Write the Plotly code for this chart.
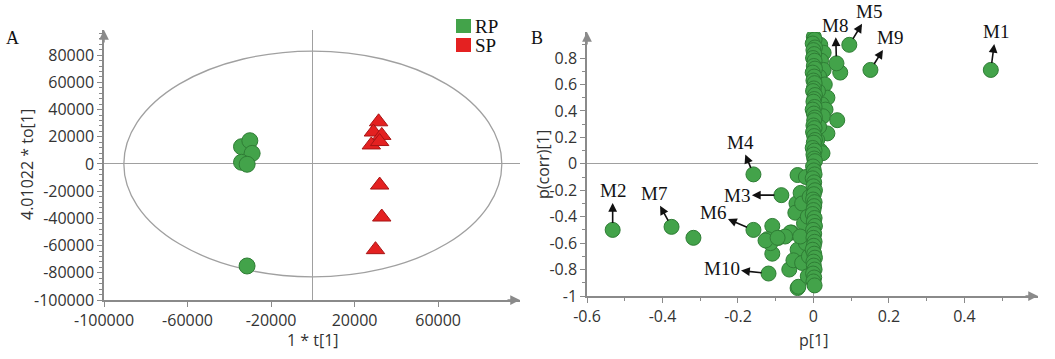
import plotly.graph_objects as go

# ---------------- Panel A data (OPLS-DA scores) ----------------
rp_t = [-34150, -30170, -29070, -34150, -31460, -31500]
rp_to = [12700, 17100, 7800, 1250, -200, -75000]
sp_t = [31500, 29000, 33000, 28000, 32000, 32000, 33000, 30000]
sp_to = [31000, 23500, 21000, 14000, 16500, -15500, -39000, -63000]
ellipse_t = 90500
ellipse_to = 83000
groups = ["RP", "SP"]

a_xticks = [-100000, -60000, -20000, 20000, 60000]
a_xticktext = ["-100000", "-60000", "-20000", "20000", "60000"]
a_yticks = [-100000, -80000, -60000, -40000, -20000, 0, 20000, 40000, 60000, 80000]
a_yticktext = ["-100000", "-80000", "-60000", "-40000", "-20000", "0", "20000", "40000", "60000", "80000"]

# ---------------- Panel B data (S-plot) ----------------
col_p = [0.001, 0.003, -0.002, 0.004, 0.000, 0.002, -0.001, 0.003, 0.001, 0.004, -0.002, 0.002,
         0.000, 0.003, 0.001, -0.001, 0.004, 0.002, 0.000, 0.003, -0.002, 0.001, 0.004, 0.002,
         0.000, 0.003, -0.001, 0.002, 0.004, 0.001, -0.002, 0.003, 0.000, 0.002, 0.004, -0.001,
         0.001, 0.003, -0.002, 0.002, 0.000, 0.004, 0.001, -0.001, 0.003, 0.002, 0.000, -0.002,
         0.003, 0.001, 0.004, -0.001, 0.002, 0.000, 0.003, 0.001, -0.002, 0.002, 0.004, 0.000,
         0.001, 0.003, -0.001, 0.002, 0.000, 0.003]
col_corr = [0.96, 0.94, 0.91, 0.88, 0.86, 0.83, 0.80, 0.78, 0.74, 0.72, 0.69, 0.66,
            0.63, 0.61, 0.57, 0.55, 0.52, 0.49, 0.47, 0.43, 0.41, 0.38, 0.35, 0.33,
            0.29, 0.27, 0.24, 0.21, 0.18, 0.16, 0.12, 0.10, 0.07, 0.04, 0.02, -0.02,
            -0.05, -0.08, -0.11, -0.14, -0.17, -0.20, -0.23, -0.27, -0.29, -0.32, -0.35, -0.38,
            -0.41, -0.44, -0.47, -0.50, -0.53, -0.56, -0.59, -0.62, -0.65, -0.68, -0.71, -0.74,
            -0.77, -0.80, -0.83, -0.86, -0.89, -0.92]
pos_p = [0.018, 0.027, 0.020, 0.027, 0.015, 0.030, 0.037, 0.022, 0.032, 0.025, 0.063, 0.037,
         0.015, 0.018, 0.024, 0.071, 0.012, 0.010]
pos_corr = [0.90, 0.84, 0.78, 0.71, 0.66, 0.60, 0.50, 0.45, 0.41, 0.36, 0.33, 0.23,
            0.28, 0.10, 0.08, 0.69, 0.55, 0.18]
neg_p = [-0.042, -0.109, -0.122, -0.093, -0.109, -0.064, -0.042, -0.058, -0.045, -0.061,
         -0.114, -0.040, -0.048, -0.034, -0.030, -0.042, -0.053, -0.025, -0.020, -0.030,
         -0.015, -0.020, -0.015, -0.075, -0.035, -0.127, -0.318, -0.095, -0.010, -0.012]
neg_corr = [-0.085, -0.47, -0.57, -0.56, -0.68, -0.80, -0.94, -0.52, -0.30, -0.52,
            -0.60, -0.93, -0.37, -0.22, -0.30, -0.65, -0.73, -0.45, -0.60, -0.75,
            -0.85, -0.10, -0.40, -0.55, -0.55, -0.58, -0.56, -0.56, -0.25, -0.70]
m_names = ["M1", "M2", "M3", "M4", "M5", "M6", "M7", "M8", "M9", "M10"]
m_p = [0.470, -0.532, -0.085, -0.159, 0.095, -0.159, -0.376, 0.061, 0.151, -0.119]
m_corr = [0.71, -0.50, -0.237, -0.08, 0.90, -0.50, -0.477, 0.76, 0.71, -0.83]
# label offset (pixels, text centre relative to the point)
m_dx = [5, 0, -44, -13, 20, -40, -18, -1, 20, -47]
m_dy = [-38, -39, 0, -32, -33, -17, -33, -38, -32, -5]

b_xticks = [-0.6, -0.4, -0.2, 0, 0.2, 0.4]
b_xticktext = ["-0.6", "-0.4", "-0.2", "0", "0.2", "0.4"]
b_yticks = [-1, -0.8, -0.6, -0.4, -0.2, 0, 0.2, 0.4, 0.6, 0.8]
b_yticktext = ["-1", "-0.8", "-0.6", "-0.4", "-0.2", "0", "0.2", "0.4", "0.6", "0.8"]

GREEN = "#43a34a"
GREEN_EDGE = "#2f7d35"
RED = "#e42121"
RED_EDGE = "#a81414"
AXIS = "#8a8a8a"
TXT = "#333333"
SANS = "Open Sans, DejaVu Sans, sans-serif"
SERIF = "Liberation Serif, Times New Roman, serif"

W, H = 1055, 359

fig = go.Figure()

# Panel A
fig.add_trace(go.Scatter(x=rp_t, y=rp_to, mode="markers", xaxis="x", yaxis="y", name=groups[0],
                         showlegend=False,
                         marker=dict(symbol="circle", size=16, color=GREEN,
                                     line=dict(color=GREEN_EDGE, width=1))))
fig.add_trace(go.Scatter(x=sp_t, y=sp_to, mode="markers", xaxis="x", yaxis="y", name=groups[1],
                         showlegend=False,
                         marker=dict(symbol="triangle-up", size=16, color=RED,
                                     line=dict(color=RED_EDGE, width=1))))

# Panel B
bmarker = dict(symbol="circle", size=15, color=GREEN, line=dict(color=GREEN_EDGE, width=1))
fig.add_trace(go.Scatter(x=neg_p, y=neg_corr, mode="markers", xaxis="x2", yaxis="y2",
                         showlegend=False, marker=bmarker))
fig.add_trace(go.Scatter(x=pos_p, y=pos_corr, mode="markers", xaxis="x2", yaxis="y2",
                         showlegend=False, marker=bmarker))
fig.add_trace(go.Scatter(x=col_p, y=col_corr, mode="markers", xaxis="x2", yaxis="y2",
                         showlegend=False, marker=bmarker))
fig.add_trace(go.Scatter(x=m_p, y=m_corr, mode="markers", xaxis="x2", yaxis="y2",
                         showlegend=False, marker=bmarker, text=m_names))

shapes = [dict(type="circle", xref="x", yref="y", x0=-ellipse_t, x1=ellipse_t,
               y0=-ellipse_to, y1=ellipse_to, line=dict(color="#a0a0a0", width=1.3), layer="below")]

annotations = []
# metabolite labels with arrows
for name, px, py, dx, dy in zip(m_names, m_p, m_corr, m_dx, m_dy):
    annotations.append(dict(x=px, y=py, xref="x2", yref="y2", text=name, showarrow=True,
                            ax=dx, ay=dy, arrowside="start", arrowhead=2, startarrowhead=2,
                            arrowsize=1, startarrowsize=1.1, arrowwidth=1.6, arrowcolor="#111",
                            standoff=7, startstandoff=0,
                            font=dict(family=SERIF, size=19, color="#111")))

# axis arrows
def arrow(xref, yref, x, y, ax, ay):
    annotations.append(dict(x=x, y=y, xref=xref, yref=yref, text="", showarrow=True,
                            axref="pixel", ax=ax, ay=ay, arrowhead=2, arrowsize=1.3,
                            arrowwidth=1.5, arrowcolor=AXIS))

arrow("x", "y", 99200, -100000, -14, 0)
arrow("x", "y", -100000, 98500, 0, 14)
arrow("x2", "y2", 0.595, -1, -14, 0)
arrow("x2", "y2", -0.6, 0.997, 0, 14)

def ptext(x, y, text, size=16, family=SANS, angle=0, color=TXT, xanchor="center"):
    annotations.append(dict(x=x / W, y=1 - y / H, xref="paper", yref="paper", text=text,
                            showarrow=False, textangle=angle, xanchor=xanchor, yanchor="middle",
                            font=dict(family=family, size=size, color=color)))

ptext(12, 38, "A", size=18, family=SERIF, color="#111")
ptext(537, 38, "B", size=18, family=SERIF, color="#111")
ptext(27, 165, "4.01022 * to[1]", size=16, angle=-90)
ptext(313, 340, "1 * t[1]", size=16)
ptext(543, 165, "p(corr)[1]", size=16, angle=-90)
ptext(813, 340, "p[1]", size=16)

# legend (square swatches + labels)
for i, (g, c) in enumerate(zip(groups, [GREEN, RED])):
    y0 = 19 + 19 * i
    shapes.append(dict(type="rect", xref="paper", yref="paper", x0=456 / W, x1=471 / W,
                       y0=1 - (y0 + 14) / H, y1=1 - y0 / H, fillcolor=c, line=dict(width=0)))
    ptext(473, y0 + 7, g, size=19, family=SERIF, color="#111", xanchor="left")

axis_common = dict(showline=True, linecolor=AXIS, linewidth=1.5, ticks="outside", ticklen=5,
                   tickcolor=AXIS, tickwidth=1, showgrid=False, zeroline=True,
                   zerolinecolor="#a0a0a0", zerolinewidth=1.3, tickmode="array",
                   automargin=False,
                   tickfont=dict(family=SANS, size=16, color=TXT))

fig.update_layout(
    width=W, height=H, margin=dict(l=0, r=0, t=0, b=0, autoexpand=False),
    paper_bgcolor="white", plot_bgcolor="white",
    xaxis=dict(domain=[104 / W, 520 / W], range=[-100000, 99200], anchor="y",
               tickvals=a_xticks, ticktext=a_xticktext, **axis_common),
    yaxis=dict(domain=[1 - 300 / H, 1 - 30 / H], range=[-100000, 98500], anchor="x",
               tickvals=a_yticks, ticktext=a_yticktext,
               minor=dict(tickmode="linear", tick0=0, dtick=4000, ticks="outside", ticklen=3,
                          tickcolor=AXIS), **axis_common),
    xaxis2=dict(domain=[587 / W, 1038 / W], range=[-0.6, 0.595], anchor="y2",
                tickvals=b_xticks, ticktext=b_xticktext,
                minor=dict(tickmode="linear", tick0=0, dtick=0.1, ticks="outside", ticklen=3,
                           tickcolor=AXIS), **axis_common),
    yaxis2=dict(domain=[1 - 296 / H, 1 - 32 / H], range=[-1, 0.997], anchor="x2",
                tickvals=b_yticks, ticktext=b_yticktext,
                minor=dict(tickmode="linear", tick0=0, dtick=0.1, ticks="outside", ticklen=3,
                           tickcolor=AXIS), **axis_common),
    showlegend=False,
    shapes=shapes, annotations=annotations,
)

fig.write_html("out.html", config={"displayModeBar": False},
               post_script="document.body.style.margin='0';document.body.style.overflow='hidden';")
